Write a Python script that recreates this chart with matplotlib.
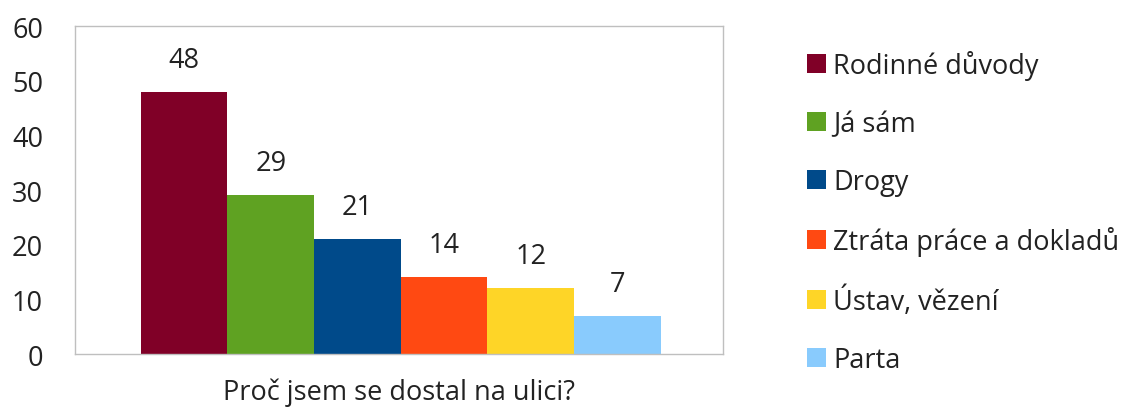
import numpy as np
import matplotlib
matplotlib.use("Agg")
import matplotlib.pyplot as plt
from matplotlib.patches import Patch

plt.rcParams['font.family'] = ['Open Sans', 'DejaVu Sans']

# data
categories = ["Rodinné důvody", "Já sám", "Drogy", "Ztráta práce a dokladů", "Ústav, vězení", "Parta"]
values = [48, 29, 21, 14, 12, 7]
colors = ["#800027", "#5FA222", "#004A8A", "#FF4912", "#FED527", "#89CBFD"]
xlabel = "Proč jsem se dostal na ulici?"
yticks = [0, 10, 20, 30, 40, 50, 60]

fs = 19.5
txt = "#222222"

fig = plt.figure(figsize=(11.29, 4.10), dpi=100)
ax = fig.add_axes([0.0664, 0.1341, 0.574, 0.80])

x = np.arange(len(values))
ax.bar(x, values, width=1.0, color=colors, linewidth=0)

# value labels above bars
for xi, v in zip(x, values):
    ax.annotate(str(v), (xi, v), xytext=(0, 13), textcoords="offset points",
                ha="center", va="bottom", fontsize=fs, color=txt)

ax.set_xlim(-1.26, 6.22)
ax.set_ylim(0, 60)
ax.set_yticks(yticks)
ax.set_xticks([])
ax.tick_params(axis="y", length=0, pad=23, labelsize=fs, labelcolor=txt)
for s in ax.spines.values():
    s.set_color("#BFBFBF")
    s.set_linewidth(1)
ax.set_xlabel(xlabel, fontsize=fs, color=txt, labelpad=17)

handles = [Patch(facecolor=c, edgecolor="none") for c in colors]
fig.legend(handles, categories, loc="upper left", bbox_to_anchor=(0.715, 0.875),
           frameon=False, fontsize=fs, handlelength=0.7, handleheight=0.7,
           handletextpad=0.25, labelspacing=1.1, labelcolor=txt,
           borderaxespad=0, borderpad=0)

fig.savefig("out.png", dpi=100)
